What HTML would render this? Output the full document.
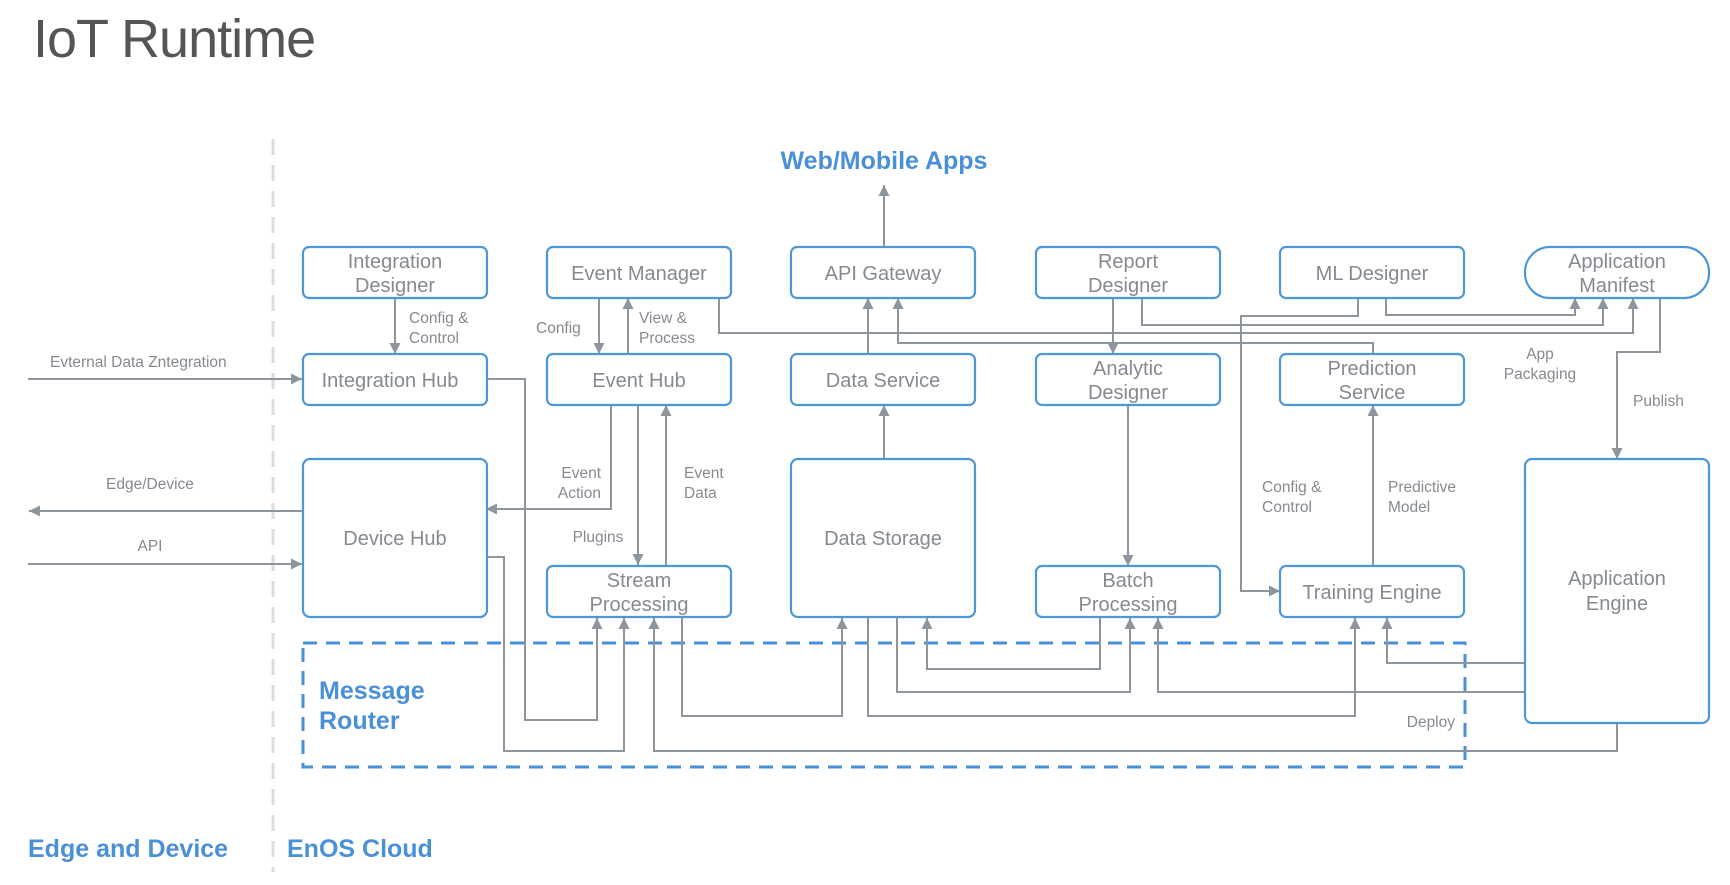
<!DOCTYPE html>
<html><head><meta charset="utf-8"><style>
html,body{margin:0;padding:0;background:#fff;}
svg{display:block;font-family:"Liberation Sans",sans-serif;}
.b{fill:#fff;stroke:#4d97d6;stroke-width:2.2;}
.t{fill:#858a90;font-size:20px;text-anchor:middle;}
.l{fill:#858a90;font-size:15.5px;}
.c{fill:none;stroke:#8e959c;stroke-width:2;}
.a{marker-end:url(#ar);}
.h{fill:#4a90d9;font-weight:bold;}
</style></head><body>
<svg width="1730" height="885" viewBox="0 0 1730 885" xmlns="http://www.w3.org/2000/svg">
<defs><marker id="ar" markerUnits="userSpaceOnUse" markerWidth="11" markerHeight="11" refX="10" refY="5" viewBox="0 0 10 10" orient="auto"><path d="M0,0 L10,5 L0,10 z" fill="#8e959c"/></marker></defs>

<text x="33" y="57" style="font-size:54px;fill:#555;letter-spacing:-1px">IoT Runtime</text>
<line x1="273" y1="139" x2="273" y2="872" stroke="#dcdcdc" stroke-width="3" stroke-dasharray="16,10"/>
<text x="884" y="169" class="h" text-anchor="middle" style="font-size:25px">Web/Mobile Apps</text>
<text x="28" y="857" class="h" style="font-size:25px">Edge and Device</text>
<text x="287" y="857" class="h" style="font-size:25px">EnOS Cloud</text>

<rect x="303" y="643" width="1162" height="124" fill="none" stroke="#4a90d9" stroke-width="3" stroke-dasharray="14,9"/>
<text x="319" y="699" class="h" style="font-size:25px">Message</text>
<text x="319" y="729" class="h" style="font-size:25px">Router</text>

<!-- connectors -->
<g class="c">
<path class="a" d="M884,247 V185"/>
<path class="a" d="M395,298 V354"/>
<path class="a" d="M599,298 V354"/>
<path class="a" d="M628,354 V298"/>
<path class="a" d="M719,298 V333 H1633 V298"/>
<path class="a" d="M868,354 V298"/>
<path class="a" d="M1373,354 V343 H898 V298"/>
<path class="a" d="M1113,298 V354"/>
<path class="a" d="M1142,298 V325 H1603 V298"/>
<path class="a" d="M1386,298 V315 H1575 V298"/>
<path class="a" d="M1358,298 V316 H1241 V591 H1280"/>
<path class="a" d="M1660,298 V352 H1617 V459"/>
<path class="a" d="M884,459 V405"/>
<path class="a" d="M1128,405 V566"/>
<path class="a" d="M1373,566 V405"/>
<path class="a" d="M611,405 V509 H486"/>
<path class="a" d="M638,405 V565"/>
<path class="a" d="M666,566 V405"/>
<path class="a" d="M487,379 H525 V720 H597 V618"/>
<path class="a" d="M487,557 H504 V751 H624 V618"/>
<path class="a" d="M1617,723 V751 H654 V618"/>
<path class="a" d="M682,617 V716 H842 V618"/>
<path class="a" d="M868,617 V716 H1355 V618"/>
<path class="a" d="M897,617 V692 H1130 V618"/>
<path class="a" d="M1100,617 V669 H927 V618"/>
<path class="a" d="M1525,692 H1158 V618"/>
<path class="a" d="M1525,663 H1387 V618"/>
<path class="a" d="M28,379 H302"/>
<path class="a" d="M303,511 H29"/>
<path class="a" d="M28,564 H302"/>
</g>

<!-- boxes -->
<rect class="b" x="303" y="247" width="184" height="51" rx="6"/>
<rect class="b" x="547" y="247" width="184" height="51" rx="6"/>
<rect class="b" x="791" y="247" width="184" height="51" rx="6"/>
<rect class="b" x="1036" y="247" width="184" height="51" rx="6"/>
<rect class="b" x="1280" y="247" width="184" height="51" rx="6"/>
<rect class="b" x="1525" y="247" width="184" height="51" rx="25"/>
<rect class="b" x="303" y="354" width="184" height="51" rx="6"/>
<rect class="b" x="547" y="354" width="184" height="51" rx="6"/>
<rect class="b" x="791" y="354" width="184" height="51" rx="6"/>
<rect class="b" x="1036" y="354" width="184" height="51" rx="6"/>
<rect class="b" x="1280" y="354" width="184" height="51" rx="6"/>
<rect class="b" x="303" y="459" width="184" height="158" rx="7"/>
<rect class="b" x="547" y="566" width="184" height="51" rx="6"/>
<rect class="b" x="791" y="459" width="184" height="158" rx="7"/>
<rect class="b" x="1036" y="566" width="184" height="51" rx="6"/>
<rect class="b" x="1280" y="566" width="184" height="51" rx="6"/>
<rect class="b" x="1525" y="459" width="184" height="264" rx="7"/>

<g class="t">
<text x="395" y="268">Integration</text><text x="395" y="292">Designer</text>
<text x="639" y="280">Event Manager</text>
<text x="883" y="280">API Gateway</text>
<text x="1128" y="268">Report</text><text x="1128" y="292">Designer</text>
<text x="1372" y="280">ML Designer</text>
<text x="1617" y="268">Application</text><text x="1617" y="292">Manifest</text>
<text x="390" y="387">Integration Hub</text>
<text x="639" y="387">Event Hub</text>
<text x="883" y="387">Data Service</text>
<text x="1128" y="375">Analytic</text><text x="1128" y="399">Designer</text>
<text x="1372" y="375">Prediction</text><text x="1372" y="399">Service</text>
<text x="395" y="545">Device Hub</text>
<text x="639" y="587">Stream</text><text x="639" y="611">Processing</text>
<text x="883" y="545">Data Storage</text>
<text x="1128" y="587">Batch</text><text x="1128" y="611">Processing</text>
<text x="1372" y="599">Training Engine</text>
<text x="1617" y="585">Application</text><text x="1617" y="610">Engine</text>
</g>

<g class="l">
<text x="50" y="367">Evternal Data Zntegration</text>
<text x="150" y="489" text-anchor="middle">Edge/Device</text>
<text x="150" y="551" text-anchor="middle">API</text>
<text x="409" y="323">Config &amp;</text><text x="409" y="343">Control</text>
<text x="536" y="333">Config</text>
<text x="639" y="323">View &amp;</text><text x="639" y="343">Process</text>
<text x="601" y="478" text-anchor="end">Event</text><text x="601" y="498" text-anchor="end">Action</text>
<text x="684" y="478">Event</text><text x="684" y="498">Data</text>
<text x="598" y="542" text-anchor="middle">Plugins</text>
<text x="1540" y="359" text-anchor="middle">App</text><text x="1540" y="379" text-anchor="middle">Packaging</text>
<text x="1633" y="406">Publish</text>
<text x="1262" y="492">Config &amp;</text><text x="1262" y="512">Control</text>
<text x="1388" y="492">Predictive</text><text x="1388" y="512">Model</text>
<text x="1455" y="727" text-anchor="end">Deploy</text>
</g>
</svg>
</body></html>
